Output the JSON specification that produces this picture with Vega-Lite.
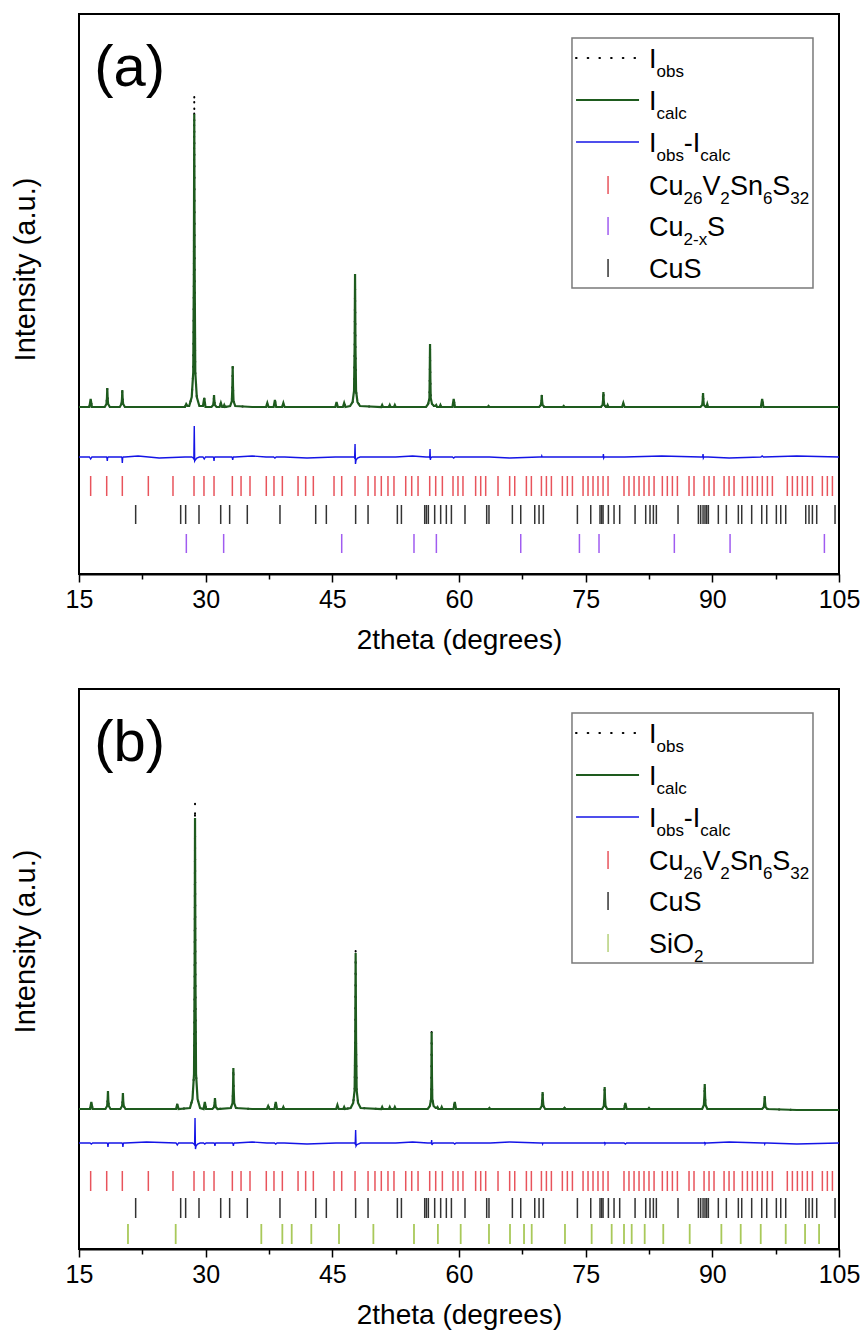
{
"$schema": "https://vega.github.io/schema/vega-lite/v6.json",
"padding": {"left": 10, "top": 13, "right": 0, "bottom": 0},
"spacing": 33,
"config": {"font": "Liberation Sans", "view": {"stroke": "black", "strokeWidth": 2}, "text": {"font": "Liberation Sans", "color": "black"}},
"datasets": {
"a": [
{"t":15,"c":167,"o":167,"d":117},{"t":16.23,"c":167,"o":167,"d":117},{"t":16.38,"c":175,"o":175,"d":115},{"t":16.53,"c":167,"o":167,"d":117},
{"t":18.05,"c":167,"o":167,"d":117},{"t":18.25,"c":170,"o":170,"d":117},{"t":18.31,"c":176,"o":176,"d":116},{"t":18.35,"c":186,"o":186,"d":113},{"t":18.39,"c":176,"o":176,"d":116},{"t":18.45,"c":170,"o":170,"d":117},{"t":18.65,"c":167,"o":167,"d":117},
{"t":19.83,"c":167,"o":167,"d":117},{"t":20.03,"c":170,"o":170,"d":117},{"t":20.09,"c":175,"o":175,"d":116},{"t":20.13,"c":184,"o":184,"d":111},{"t":20.17,"c":175,"o":175,"d":116},{"t":20.23,"c":170,"o":170,"d":117},{"t":20.43,"c":167,"o":167,"d":117},
{"t":22.0,"c":167,"o":167,"d":118},{"t":24.5,"c":167,"o":167,"d":116},
{"t":27.55,"c":167,"o":167,"d":117},{"t":27.7,"c":170,"o":170,"d":117},{"t":27.85,"c":168,"o":168,"d":117},
{"t":28.05,"c":168,"o":168,"d":117},{"t":28.35,"c":177,"o":177,"d":117},{"t":28.53,"c":202,"o":202,"d":116},{"t":28.6,"c":299,"o":299,"d":115},{"t":28.65,"c":460,"o":480,"d":148},{"t":28.7,"c":299,"o":299,"d":113},{"t":28.77,"c":202,"o":202,"d":114},{"t":28.95,"c":177,"o":177,"d":116},{"t":29.25,"c":168,"o":168,"d":117},
{"t":29.68,"c":168,"o":168,"d":117},{"t":29.83,"c":176,"o":176,"d":115},{"t":29.98,"c":167,"o":167,"d":117},
{"t":30.69,"c":167,"o":167,"d":117},{"t":30.89,"c":169,"o":169,"d":117},{"t":30.95,"c":173,"o":173,"d":116},{"t":30.99,"c":179,"o":179,"d":113},{"t":31.03,"c":173,"o":173,"d":116},{"t":31.09,"c":169,"o":169,"d":117},{"t":31.29,"c":167,"o":167,"d":117},
{"t":31.65,"c":167,"o":167,"d":117},{"t":31.8,"c":171,"o":171,"d":117},{"t":31.95,"c":167,"o":167,"d":117},
{"t":32.1,"c":167,"o":167,"d":117},{"t":32.2,"c":169,"o":169,"d":117},{"t":32.3,"c":167,"o":167,"d":117},
{"t":32.9,"c":168,"o":168,"d":117},{"t":33.1,"c":173,"o":173,"d":117},{"t":33.16,"c":187,"o":187,"d":116},{"t":33.2,"c":208,"o":208,"d":114},{"t":33.24,"c":187,"o":187,"d":116},{"t":33.3,"c":173,"o":173,"d":117},{"t":33.5,"c":168,"o":168,"d":117},
{"t":35.5,"c":167,"o":167,"d":118},
{"t":37.15,"c":167,"o":167,"d":117},{"t":37.3,"c":171,"o":171,"d":117},{"t":37.45,"c":167,"o":167,"d":117},
{"t":38.05,"c":167,"o":167,"d":117},{"t":38.2,"c":174,"o":174,"d":116},{"t":38.35,"c":167,"o":167,"d":117},
{"t":39.05,"c":167,"o":167,"d":117},{"t":39.2,"c":171,"o":171,"d":117},{"t":39.35,"c":167,"o":167,"d":117},
{"t":42.0,"c":167,"o":167,"d":116},
{"t":45.35,"c":167,"o":167,"d":117},{"t":45.5,"c":172,"o":172,"d":117},{"t":45.65,"c":167,"o":167,"d":117},
{"t":46.25,"c":167,"o":167,"d":117},{"t":46.4,"c":171,"o":171,"d":117},{"t":46.55,"c":167,"o":167,"d":117},
{"t":47.1,"c":168,"o":168,"d":117},{"t":47.4,"c":172,"o":172,"d":117},{"t":47.57,"c":183,"o":183,"d":117},{"t":47.64,"c":227,"o":227,"d":116},{"t":47.69,"c":300,"o":303,"d":130},{"t":47.74,"c":227,"o":227,"d":110},{"t":47.81,"c":183,"o":183,"d":114},{"t":47.98,"c":172,"o":172,"d":116},{"t":48.28,"c":168,"o":168,"d":117},
{"t":50.8,"c":167,"o":167,"d":117},{"t":50.9,"c":169,"o":169,"d":117},{"t":51.0,"c":167,"o":167,"d":117},
{"t":51.7,"c":167,"o":167,"d":117},{"t":51.8,"c":169,"o":169,"d":117},{"t":51.9,"c":167,"o":167,"d":117},
{"t":52.3,"c":167,"o":167,"d":117},{"t":52.4,"c":169,"o":169,"d":117},{"t":52.5,"c":167,"o":167,"d":117},
{"t":54.5,"c":167,"o":167,"d":118},
{"t":56.1,"c":167,"o":167,"d":117},{"t":56.35,"c":170,"o":170,"d":117},{"t":56.5,"c":176,"o":176,"d":117},{"t":56.53,"c":195,"o":195,"d":116},{"t":56.57,"c":230,"o":232,"d":125},{"t":56.61,"c":195,"o":195,"d":114},{"t":56.65,"c":176,"o":176,"d":116},{"t":56.8,"c":170,"o":170,"d":117},{"t":57.05,"c":168,"o":168,"d":117},
{"t":57.2,"c":168,"o":168,"d":117},{"t":57.3,"c":169,"o":169,"d":117},{"t":57.4,"c":167,"o":167,"d":117},
{"t":57.7,"c":167,"o":167,"d":117},{"t":57.8,"c":169,"o":169,"d":117},{"t":57.9,"c":167,"o":167,"d":117},
{"t":59.22,"c":167,"o":167,"d":117},{"t":59.37,"c":175,"o":175,"d":116},{"t":59.52,"c":167,"o":167,"d":117},
{"t":63.4,"c":167,"o":167,"d":117},{"t":63.5,"c":168,"o":168,"d":117},{"t":63.6,"c":167,"o":167,"d":117},
{"t":66.0,"c":167,"o":167,"d":116},
{"t":69.5,"c":167,"o":167,"d":117},{"t":69.7,"c":169,"o":169,"d":117},{"t":69.76,"c":173,"o":173,"d":117},{"t":69.8,"c":179,"o":179,"d":118},{"t":69.84,"c":173,"o":173,"d":117},{"t":69.9,"c":169,"o":169,"d":117},{"t":70.1,"c":167,"o":167,"d":117},
{"t":72.3,"c":167,"o":167,"d":117},{"t":72.4,"c":168,"o":168,"d":117},{"t":72.5,"c":167,"o":167,"d":117},
{"t":76.8,"c":167,"o":167,"d":117},{"t":77.0,"c":169,"o":169,"d":117},{"t":77.06,"c":174,"o":174,"d":117},{"t":77.1,"c":182,"o":184,"d":120},{"t":77.14,"c":174,"o":174,"d":116},{"t":77.2,"c":169,"o":169,"d":117},{"t":77.4,"c":167,"o":167,"d":117},
{"t":77.5,"c":167,"o":167,"d":117},{"t":77.6,"c":169,"o":169,"d":117},{"t":77.7,"c":167,"o":167,"d":117},
{"t":79.31,"c":167,"o":167,"d":117},{"t":79.46,"c":171,"o":171,"d":117},{"t":79.61,"c":167,"o":167,"d":117},
{"t":84.0,"c":167,"o":167,"d":118},
{"t":88.6,"c":167,"o":167,"d":117},{"t":88.8,"c":169,"o":169,"d":117},{"t":88.86,"c":174,"o":174,"d":117},{"t":88.9,"c":181,"o":182,"d":120},{"t":88.94,"c":174,"o":174,"d":116},{"t":89.0,"c":169,"o":169,"d":117},{"t":89.2,"c":167,"o":167,"d":117},
{"t":89.3,"c":167,"o":167,"d":117},{"t":89.4,"c":170,"o":170,"d":117},{"t":89.5,"c":167,"o":167,"d":117},
{"t":92.0,"c":167,"o":167,"d":116},
{"t":95.75,"c":167,"o":167,"d":117},{"t":95.9,"c":175,"o":175,"d":118},{"t":96.05,"c":167,"o":167,"d":117},
{"t":100.0,"c":167,"o":167,"d":118},{"t":105,"c":167,"o":167,"d":117}
],
"b": [
{"t":15,"c":140,"o":140,"d":106},{"t":16.31,"c":140,"o":140,"d":106},{"t":16.46,"c":147,"o":147,"d":105},{"t":16.61,"c":140,"o":140,"d":106},
{"t":18.13,"c":140,"o":140,"d":106},{"t":18.33,"c":143,"o":143,"d":106},{"t":18.39,"c":149,"o":149,"d":105},{"t":18.43,"c":158,"o":158,"d":102},{"t":18.47,"c":149,"o":149,"d":105},{"t":18.53,"c":143,"o":143,"d":106},{"t":18.73,"c":140,"o":140,"d":106},
{"t":19.9,"c":140,"o":140,"d":106},{"t":20.1,"c":143,"o":143,"d":106},{"t":20.16,"c":148,"o":148,"d":105},{"t":20.2,"c":156,"o":156,"d":102},{"t":20.24,"c":148,"o":148,"d":105},{"t":20.3,"c":143,"o":143,"d":106},{"t":20.5,"c":140,"o":140,"d":106},
{"t":23.0,"c":140,"o":140,"d":107},
{"t":26.49,"c":140,"o":140,"d":106},{"t":26.64,"c":145,"o":145,"d":104},{"t":26.79,"c":140,"o":140,"d":106},
{"t":28.14,"c":141,"o":141,"d":106},{"t":28.44,"c":150,"o":150,"d":106},{"t":28.62,"c":175,"o":175,"d":105},{"t":28.69,"c":271,"o":271,"d":104},{"t":28.74,"c":431,"o":446,"d":131},{"t":28.79,"c":271,"o":271,"d":100},{"t":28.86,"c":175,"o":175,"d":103},{"t":29.04,"c":150,"o":150,"d":105},{"t":29.34,"c":141,"o":141,"d":106},
{"t":29.75,"c":140,"o":140,"d":106},{"t":29.9,"c":147,"o":147,"d":105},{"t":30.05,"c":140,"o":140,"d":106},
{"t":30.8,"c":140,"o":140,"d":106},{"t":31.0,"c":142,"o":142,"d":106},{"t":31.06,"c":146,"o":146,"d":105},{"t":31.1,"c":151,"o":151,"d":103},{"t":31.14,"c":146,"o":146,"d":105},{"t":31.2,"c":142,"o":142,"d":106},{"t":31.4,"c":140,"o":140,"d":106},
{"t":32.98,"c":141,"o":141,"d":106},{"t":33.18,"c":146,"o":146,"d":106},{"t":33.24,"c":160,"o":160,"d":105},{"t":33.28,"c":181,"o":181,"d":103},{"t":33.32,"c":160,"o":160,"d":105},{"t":33.38,"c":146,"o":146,"d":106},{"t":33.58,"c":141,"o":141,"d":106},
{"t":35.5,"c":140,"o":140,"d":107},
{"t":37.25,"c":140,"o":140,"d":106},{"t":37.4,"c":143,"o":143,"d":106},{"t":37.55,"c":140,"o":140,"d":106},
{"t":38.15,"c":140,"o":140,"d":106},{"t":38.3,"c":147,"o":147,"d":105},{"t":38.45,"c":140,"o":140,"d":106},
{"t":39.1,"c":140,"o":140,"d":106},{"t":39.2,"c":142,"o":142,"d":106},{"t":39.3,"c":140,"o":140,"d":106},
{"t":42.0,"c":140,"o":140,"d":105},
{"t":45.45,"c":140,"o":140,"d":106},{"t":45.6,"c":144,"o":144,"d":106},{"t":45.75,"c":140,"o":140,"d":106},
{"t":46.3,"c":140,"o":140,"d":106},{"t":46.4,"c":142,"o":142,"d":106},{"t":46.5,"c":140,"o":140,"d":106},
{"t":47.17,"c":141,"o":141,"d":106},{"t":47.47,"c":146,"o":146,"d":106},{"t":47.64,"c":159,"o":159,"d":106},{"t":47.71,"c":210,"o":210,"d":105},{"t":47.76,"c":296,"o":298,"d":119},{"t":47.81,"c":210,"o":210,"d":103},{"t":47.88,"c":159,"o":159,"d":104},{"t":48.05,"c":146,"o":146,"d":105},{"t":48.35,"c":141,"o":141,"d":106},
{"t":50.8,"c":140,"o":140,"d":106},{"t":50.9,"c":142,"o":142,"d":106},{"t":51.0,"c":140,"o":140,"d":106},
{"t":51.7,"c":140,"o":140,"d":106},{"t":51.8,"c":142,"o":142,"d":106},{"t":51.9,"c":140,"o":140,"d":106},
{"t":52.3,"c":140,"o":140,"d":106},{"t":52.4,"c":142,"o":142,"d":106},{"t":52.5,"c":140,"o":140,"d":106},
{"t":54.5,"c":140,"o":140,"d":107},
{"t":56.3,"c":140,"o":140,"d":106},{"t":56.55,"c":143,"o":143,"d":106},{"t":56.7,"c":150,"o":150,"d":106},{"t":56.73,"c":172,"o":172,"d":106},{"t":56.76,"c":217,"o":217,"d":109},{"t":56.8,"c":172,"o":172,"d":104},{"t":56.84,"c":150,"o":150,"d":105},{"t":56.99,"c":143,"o":143,"d":106},{"t":57.24,"c":141,"o":141,"d":106},
{"t":57.35,"c":141,"o":141,"d":106},{"t":57.45,"c":142,"o":142,"d":106},{"t":57.55,"c":140,"o":140,"d":106},
{"t":57.85,"c":140,"o":140,"d":106},{"t":57.95,"c":142,"o":142,"d":106},{"t":58.05,"c":140,"o":140,"d":106},
{"t":59.35,"c":140,"o":140,"d":106},{"t":59.5,"c":147,"o":147,"d":105},{"t":59.65,"c":140,"o":140,"d":106},
{"t":63.5,"c":140,"o":140,"d":106},{"t":63.6,"c":141,"o":141,"d":106},{"t":63.7,"c":140,"o":140,"d":106},
{"t":66.0,"c":140,"o":140,"d":107},
{"t":69.6,"c":140,"o":140,"d":106},{"t":69.8,"c":143,"o":143,"d":106},{"t":69.86,"c":149,"o":149,"d":106},{"t":69.9,"c":157,"o":157,"d":105},{"t":69.94,"c":149,"o":149,"d":106},{"t":70.0,"c":143,"o":143,"d":106},{"t":70.2,"c":140,"o":140,"d":106},
{"t":72.4,"c":140,"o":140,"d":106},{"t":72.5,"c":141,"o":141,"d":106},{"t":72.6,"c":140,"o":140,"d":106},
{"t":76.95,"c":140,"o":140,"d":106},{"t":77.15,"c":143,"o":143,"d":106},{"t":77.21,"c":151,"o":151,"d":106},{"t":77.25,"c":162,"o":162,"d":107},{"t":77.29,"c":151,"o":151,"d":105},{"t":77.35,"c":143,"o":143,"d":106},{"t":77.55,"c":140,"o":140,"d":106},
{"t":79.55,"c":140,"o":140,"d":106},{"t":79.7,"c":146,"o":146,"d":105},{"t":79.85,"c":140,"o":140,"d":106},
{"t":82.4,"c":140,"o":140,"d":106},{"t":82.5,"c":141,"o":141,"d":106},{"t":82.6,"c":140,"o":140,"d":106},
{"t":88.8,"c":140,"o":140,"d":106},{"t":89.0,"c":144,"o":144,"d":106},{"t":89.06,"c":153,"o":153,"d":106},{"t":89.1,"c":165,"o":165,"d":107},{"t":89.14,"c":153,"o":153,"d":105},{"t":89.2,"c":144,"o":144,"d":106},{"t":89.4,"c":140,"o":140,"d":106},
{"t":92.0,"c":140,"o":140,"d":107},
{"t":95.9,"c":140,"o":140,"d":106},{"t":96.1,"c":142,"o":142,"d":106},{"t":96.16,"c":147,"o":147,"d":106},{"t":96.2,"c":153,"o":153,"d":105},{"t":96.24,"c":147,"o":147,"d":106},{"t":96.3,"c":142,"o":142,"d":106},{"t":96.5,"c":140,"o":140,"d":106},
{"t":100.0,"c":139,"o":139,"d":105},{"t":105,"c":139,"o":139,"d":106}
],
"cts": [{"t":16.38},{"t":18.28},{"t":20.13},{"t":23.21},{"t":26.13},{"t":28.62},{"t":29.80},{"t":30.99},{"t":33.16},{"t":34.19},{"t":35.25},{"t":37.18},{"t":38.09},{"t":39.08},{"t":40.94},{"t":41.84},{"t":42.75},{"t":45.20},{"t":46.11},{"t":47.69},{"t":49.23},{"t":50.05},{"t":50.80},{"t":51.59},{"t":52.30},{"t":53.69},{"t":54.40},{"t":55.15},{"t":56.53},{"t":57.24},{"t":58.03},{"t":59.29},{"t":59.88},{"t":60.47},{"t":61.97},{"t":62.57},{"t":63.16},{"t":64.62},{"t":66.00},{"t":66.60},{"t":67.98},{"t":68.57},{"t":69.76},{"t":70.35},{"t":70.94},{"t":72.24},{"t":72.83},{"t":73.43},{"t":74.69},{"t":75.28},{"t":75.87},{"t":76.46},{"t":77.06},{"t":77.65},{"t":79.54},{"t":80.13},{"t":80.73},{"t":81.32},{"t":81.91},{"t":82.50},{"t":83.10},{"t":84.08},{"t":84.67},{"t":85.27},{"t":85.86},{"t":87.24},{"t":87.83},{"t":89.02},{"t":89.61},{"t":90.20},{"t":91.39},{"t":91.98},{"t":92.57},{"t":93.56},{"t":94.15},{"t":94.74},{"t":95.33},{"t":95.92},{"t":96.52},{"t":97.11},{"t":98.88},{"t":99.48},{"t":100.07},{"t":100.66},{"t":101.25},{"t":101.85},{"t":103.03},{"t":103.62},{"t":104.22}],
"cus": [{"t":21.71},{"t":27.04},{"t":27.63},{"t":29.21},{"t":31.78},{"t":32.84},{"t":34.93},{"t":38.80},{"t":43.03},{"t":44.29},{"t":47.76},{"t":49.23},{"t":52.70},{"t":53.18},{"t":55.94},{"t":56.14},{"t":56.37},{"t":57.12},{"t":57.83},{"t":58.5},{"t":59.1},{"t":60.71},{"t":63.28},{"t":63.55},{"t":66.32},{"t":67.31},{"t":68.97},{"t":69.48},{"t":69.99},{"t":74.02},{"t":75.60},{"t":76.70},{"t":76.90},{"t":77.06},{"t":77.69},{"t":78.36},{"t":79.03},{"t":80.85},{"t":82.11},{"t":82.62},{"t":83.02},{"t":83.37},{"t":85.94},{"t":88.35},{"t":88.62},{"t":88.90},{"t":89.13},{"t":89.33},{"t":89.53},{"t":90.71},{"t":91.66},{"t":93.08},{"t":93.48},{"t":94.66},{"t":95.85},{"t":96.44},{"t":97.58},{"t":98.10},{"t":98.69},{"t":101.06},{"t":101.45},{"t":101.85},{"t":102.36},{"t":104.53}],
"cu2s": [{"t":27.71},{"t":32.13},{"t":46.11},{"t":54.67},{"t":57.32},{"t":67.31},{"t":74.26},{"t":76.58},{"t":85.5},{"t":92.10},{"t":103.27}],
"sio2": [{"t":20.80},{"t":26.45},{"t":36.59},{"t":39.08},{"t":40.19},{"t":42.51},{"t":45.79},{"t":49.86},{"t":54.67},{"t":57.5},{"t":60.20},{"t":63.55},{"t":66.04},{"t":67.70},{"t":68.61},{"t":72.55},{"t":75.71},{"t":78.08},{"t":79.54},{"t":80.45},{"t":81.99},{"t":84.19},{"t":87.32},{"t":91.07},{"t":93.36},{"t":95.73},{"t":98.69},{"t":100.98},{"t":102.64}]
},
"vconcat": [
{
"width": 760, "height": 560,
"layer": [
{"data": {"name": "a"}, "mark": {"type": "line", "color": "black", "strokeWidth": 2, "strokeDash": [0.5, 11], "strokeCap": "round"},
 "encoding": {"x": {"field": "t", "type": "quantitative", "scale": {"domain": [15,105], "nice": false, "zero": false},
   "axis": {"title": "2theta (degrees)", "values": [15,22.5,30,37.5,45,52.5,60,67.5,75,82.5,90,97.5,105], "labelExpr": "datum.value % 15 === 0 ? datum.label : ''", "tickSize": {"condition": {"test": "datum.value % 15 === 0", "value": 8}, "value": 5}, "labelOverlap": false, "labelFlush": false, "grid": false, "domainColor": "black", "domainWidth": 2, "tickColor": "black", "tickWidth": 1.5, "labelFontSize": 25, "labelColor": "black", "labelPadding": 5, "labelFont": "Liberation Sans", "titleFont": "Liberation Sans", "titleFontSize": 28, "titleFontWeight": "normal", "titleColor": "black", "titlePadding": 14}},
  "y": {"field": "o", "type": "quantitative", "scale": {"domain": [0,560], "nice": false, "zero": false},
   "axis": {"title": "Intensity (a.u.)", "labels": false, "ticks": false, "domain": false, "grid": false, "titleFont": "Liberation Sans", "titleFontSize": 29, "titleFontWeight": "normal", "titleColor": "black", "titlePadding": 39, "titleY": 255}}}},
{"data": {"name": "a"}, "mark": {"type": "line", "color": "#1e5b1e", "strokeWidth": 2.2}, "encoding": {"x": {"field": "t", "type": "quantitative", "scale": {"domain": [15,105], "nice": false, "zero": false}}, "y": {"field": "c", "type": "quantitative", "scale": {"domain": [0,560], "nice": false, "zero": false}}}},
{"data": {"name": "a"}, "mark": {"type": "line", "color": "#1414e6", "strokeWidth": 1.4}, "encoding": {"x": {"field": "t", "type": "quantitative", "scale": {"domain": [15,105], "nice": false, "zero": false}}, "y": {"field": "d", "type": "quantitative", "scale": {"domain": [0,560], "nice": false, "zero": false}}}},
{"data": {"name": "cts"}, "mark": {"type": "rule", "color": "#e8545c", "strokeWidth": 1.5}, "encoding": {"x": {"field": "t", "type": "quantitative", "scale": {"domain": [15,105], "nice": false, "zero": false}}, "y": {"datum": 98, "type": "quantitative", "scale": {"domain": [0,560], "nice": false, "zero": false}}, "y2": {"datum": 78}}},
{"data": {"name": "cus"}, "mark": {"type": "rule", "color": "#333333", "strokeWidth": 1.5}, "encoding": {"x": {"field": "t", "type": "quantitative", "scale": {"domain": [15,105], "nice": false, "zero": false}}, "y": {"datum": 69, "type": "quantitative", "scale": {"domain": [0,560], "nice": false, "zero": false}}, "y2": {"datum": 50}}},
{"data": {"name": "cu2s"}, "mark": {"type": "rule", "color": "#a05cf0", "strokeWidth": 1.5}, "encoding": {"x": {"field": "t", "type": "quantitative", "scale": {"domain": [15,105], "nice": false, "zero": false}}, "y": {"datum": 40, "type": "quantitative", "scale": {"domain": [0,560], "nice": false, "zero": false}}, "y2": {"datum": 21}}},
{"data": {"values": [{}]}, "mark": {"type": "rect", "fill": "white", "stroke": "#7a7a7a", "strokeWidth": 1.5}, "encoding": {"x": {"datum": 73.38, "type": "quantitative"}, "x2": {"datum": 101.92}, "y": {"datum": 536, "type": "quantitative"}, "y2": {"datum": 286}}},
{"data": {"values": [{}]}, "mark": {"type": "text", "align": "left", "baseline": "alphabetic", "fontSize": 58, "font": "Liberation Sans", "color": "black"}, "encoding": {"x": {"datum": 16.8, "type": "quantitative"}, "y": {"datum": 488, "type": "quantitative"}, "text": {"value": "(a)"}}},
{"data": {"values": [{}]}, "mark": {"type": "rule", "color": "black", "strokeWidth": 2.2, "strokeDash": [0.5, 11.2], "strokeCap": "round"}, "encoding": {"x": {"datum": 73.86, "type": "quantitative"}, "x2": {"datum": 81.32}, "y": {"datum": 516, "type": "quantitative"}}},
{"data": {"values": [{}]}, "mark": {"type": "rule", "color": "#1e5b1e", "strokeWidth": 2.2}, "encoding": {"x": {"datum": 73.86, "type": "quantitative"}, "x2": {"datum": 81.32}, "y": {"datum": 474, "type": "quantitative"}}},
{"data": {"values": [{}]}, "mark": {"type": "rule", "color": "#1414e6", "strokeWidth": 1.5}, "encoding": {"x": {"datum": 73.86, "type": "quantitative"}, "x2": {"datum": 81.32}, "y": {"datum": 432, "type": "quantitative"}}},
{"data": {"values": [{}]}, "mark": {"type": "rule", "color": "#e8545c", "strokeWidth": 1.5}, "encoding": {"x": {"datum": 77.65, "type": "quantitative"}, "y": {"datum": 398, "type": "quantitative"}, "y2": {"datum": 380}}},
{"data": {"values": [{}]}, "mark": {"type": "rule", "color": "#a05cf0", "strokeWidth": 1.5}, "encoding": {"x": {"datum": 77.65, "type": "quantitative"}, "y": {"datum": 357, "type": "quantitative"}, "y2": {"datum": 339}}},
{"data": {"values": [{}]}, "mark": {"type": "rule", "color": "#333333", "strokeWidth": 1.5}, "encoding": {"x": {"datum": 77.65, "type": "quantitative"}, "y": {"datum": 315, "type": "quantitative"}, "y2": {"datum": 297}}},
{"data": {"values": [{}]}, "mark": {"type": "text", "align": "left", "baseline": "alphabetic", "fontSize": 27}, "encoding": {"x": {"datum": 82.5, "type": "quantitative"}, "y": {"datum": 506, "type": "quantitative"}, "text": {"value": "I"}}},
{"data": {"values": [{}]}, "mark": {"type": "text", "align": "left", "baseline": "alphabetic", "fontSize": 17}, "encoding": {"x": {"datum": 83.388, "type": "quantitative"}, "y": {"datum": 497, "type": "quantitative"}, "text": {"value": "obs"}}},
{"data": {"values": [{}]}, "mark": {"type": "text", "align": "left", "baseline": "alphabetic", "fontSize": 27}, "encoding": {"x": {"datum": 82.5, "type": "quantitative"}, "y": {"datum": 464, "type": "quantitative"}, "text": {"value": "I"}}},
{"data": {"values": [{}]}, "mark": {"type": "text", "align": "left", "baseline": "alphabetic", "fontSize": 17}, "encoding": {"x": {"datum": 83.388, "type": "quantitative"}, "y": {"datum": 455, "type": "quantitative"}, "text": {"value": "calc"}}},
{"data": {"values": [{}]}, "mark": {"type": "text", "align": "left", "baseline": "alphabetic", "fontSize": 27}, "encoding": {"x": {"datum": 82.5, "type": "quantitative"}, "y": {"datum": 422, "type": "quantitative"}, "text": {"value": "I"}}},
{"data": {"values": [{}]}, "mark": {"type": "text", "align": "left", "baseline": "alphabetic", "fontSize": 17}, "encoding": {"x": {"datum": 83.388, "type": "quantitative"}, "y": {"datum": 413, "type": "quantitative"}, "text": {"value": "obs"}}},
{"data": {"values": [{}]}, "mark": {"type": "text", "align": "left", "baseline": "alphabetic", "fontSize": 27}, "encoding": {"x": {"datum": 86.625, "type": "quantitative"}, "y": {"datum": 422, "type": "quantitative"}, "text": {"value": "-I"}}},
{"data": {"values": [{}]}, "mark": {"type": "text", "align": "left", "baseline": "alphabetic", "fontSize": 17}, "encoding": {"x": {"datum": 88.579, "type": "quantitative"}, "y": {"datum": 413, "type": "quantitative"}, "text": {"value": "calc"}}},
{"data": {"values": [{}]}, "mark": {"type": "text", "align": "left", "baseline": "alphabetic", "fontSize": 27}, "encoding": {"x": {"datum": 82.5, "type": "quantitative"}, "y": {"datum": 379, "type": "quantitative"}, "text": {"value": "Cu"}}},
{"data": {"values": [{}]}, "mark": {"type": "text", "align": "left", "baseline": "alphabetic", "fontSize": 17}, "encoding": {"x": {"datum": 86.59, "type": "quantitative"}, "y": {"datum": 370, "type": "quantitative"}, "text": {"value": "26"}}},
{"data": {"values": [{}]}, "mark": {"type": "text", "align": "left", "baseline": "alphabetic", "fontSize": 27}, "encoding": {"x": {"datum": 88.83, "type": "quantitative"}, "y": {"datum": 379, "type": "quantitative"}, "text": {"value": "V"}}},
{"data": {"values": [{}]}, "mark": {"type": "text", "align": "left", "baseline": "alphabetic", "fontSize": 17}, "encoding": {"x": {"datum": 90.95, "type": "quantitative"}, "y": {"datum": 370, "type": "quantitative"}, "text": {"value": "2"}}},
{"data": {"values": [{}]}, "mark": {"type": "text", "align": "left", "baseline": "alphabetic", "fontSize": 27}, "encoding": {"x": {"datum": 92.08, "type": "quantitative"}, "y": {"datum": 379, "type": "quantitative"}, "text": {"value": "Sn"}}},
{"data": {"values": [{}]}, "mark": {"type": "text", "align": "left", "baseline": "alphabetic", "fontSize": 17}, "encoding": {"x": {"datum": 96.0, "type": "quantitative"}, "y": {"datum": 370, "type": "quantitative"}, "text": {"value": "6"}}},
{"data": {"values": [{}]}, "mark": {"type": "text", "align": "left", "baseline": "alphabetic", "fontSize": 27}, "encoding": {"x": {"datum": 97.1, "type": "quantitative"}, "y": {"datum": 379, "type": "quantitative"}, "text": {"value": "S"}}},
{"data": {"values": [{}]}, "mark": {"type": "text", "align": "left", "baseline": "alphabetic", "fontSize": 17}, "encoding": {"x": {"datum": 99.24, "type": "quantitative"}, "y": {"datum": 370, "type": "quantitative"}, "text": {"value": "32"}}},
{"data": {"values": [{}]}, "mark": {"type": "text", "align": "left", "baseline": "alphabetic", "fontSize": 27}, "encoding": {"x": {"datum": 82.5, "type": "quantitative"}, "y": {"datum": 338, "type": "quantitative"}, "text": {"value": "Cu"}}},
{"data": {"values": [{}]}, "mark": {"type": "text", "align": "left", "baseline": "alphabetic", "fontSize": 17}, "encoding": {"x": {"datum": 86.59, "type": "quantitative"}, "y": {"datum": 329, "type": "quantitative"}, "text": {"value": "2-x"}}},
{"data": {"values": [{}]}, "mark": {"type": "text", "align": "left", "baseline": "alphabetic", "fontSize": 27}, "encoding": {"x": {"datum": 89.38, "type": "quantitative"}, "y": {"datum": 338, "type": "quantitative"}, "text": {"value": "S"}}},
{"data": {"values": [{}]}, "mark": {"type": "text", "align": "left", "baseline": "alphabetic", "fontSize": 27}, "encoding": {"x": {"datum": 82.5, "type": "quantitative"}, "y": {"datum": 296, "type": "quantitative"}, "text": {"value": "CuS"}}}
]
},
{
"width": 760, "height": 560,
"layer": [
{"data": {"name": "b"}, "mark": {"type": "line", "color": "black", "strokeWidth": 2, "strokeDash": [0.5, 11], "strokeCap": "round"},
 "encoding": {"x": {"field": "t", "type": "quantitative", "scale": {"domain": [15,105], "nice": false, "zero": false},
   "axis": {"title": "2theta (degrees)", "values": [15,22.5,30,37.5,45,52.5,60,67.5,75,82.5,90,97.5,105], "labelExpr": "datum.value % 15 === 0 ? datum.label : ''", "tickSize": {"condition": {"test": "datum.value % 15 === 0", "value": 8}, "value": 5}, "labelOverlap": false, "labelFlush": false, "grid": false, "domainColor": "black", "domainWidth": 2, "tickColor": "black", "tickWidth": 1.5, "labelFontSize": 25, "labelColor": "black", "labelPadding": 5, "labelFont": "Liberation Sans", "titleFont": "Liberation Sans", "titleFontSize": 28, "titleFontWeight": "normal", "titleColor": "black", "titlePadding": 14}},
  "y": {"field": "o", "type": "quantitative", "scale": {"domain": [0,560], "nice": false, "zero": false},
   "axis": {"title": "Intensity (a.u.)", "labels": false, "ticks": false, "domain": false, "grid": false, "titleFont": "Liberation Sans", "titleFontSize": 29, "titleFontWeight": "normal", "titleColor": "black", "titlePadding": 39, "titleY": 252}}}},
{"data": {"name": "b"}, "mark": {"type": "line", "color": "#1e5b1e", "strokeWidth": 2.2}, "encoding": {"x": {"field": "t", "type": "quantitative", "scale": {"domain": [15,105], "nice": false, "zero": false}}, "y": {"field": "c", "type": "quantitative", "scale": {"domain": [0,560], "nice": false, "zero": false}}}},
{"data": {"name": "b"}, "mark": {"type": "line", "color": "#1414e6", "strokeWidth": 1.4}, "encoding": {"x": {"field": "t", "type": "quantitative", "scale": {"domain": [15,105], "nice": false, "zero": false}}, "y": {"field": "d", "type": "quantitative", "scale": {"domain": [0,560], "nice": false, "zero": false}}}},
{"data": {"name": "cts"}, "mark": {"type": "rule", "color": "#e8545c", "strokeWidth": 1.5}, "encoding": {"x": {"field": "t", "type": "quantitative", "scale": {"domain": [15,105], "nice": false, "zero": false}}, "y": {"datum": 78, "type": "quantitative", "scale": {"domain": [0,560], "nice": false, "zero": false}}, "y2": {"datum": 58}}},
{"data": {"name": "cus"}, "mark": {"type": "rule", "color": "#333333", "strokeWidth": 1.5}, "encoding": {"x": {"field": "t", "type": "quantitative", "scale": {"domain": [15,105], "nice": false, "zero": false}}, "y": {"datum": 51, "type": "quantitative", "scale": {"domain": [0,560], "nice": false, "zero": false}}, "y2": {"datum": 31}}},
{"data": {"name": "sio2"}, "mark": {"type": "rule", "color": "#a9c95a", "strokeWidth": 1.8}, "encoding": {"x": {"field": "t", "type": "quantitative", "scale": {"domain": [15,105], "nice": false, "zero": false}}, "y": {"datum": 25, "type": "quantitative", "scale": {"domain": [0,560], "nice": false, "zero": false}}, "y2": {"datum": 5}}},
{"data": {"values": [{}]}, "mark": {"type": "rect", "fill": "white", "stroke": "#7a7a7a", "strokeWidth": 1.5}, "encoding": {"x": {"datum": 73.38, "type": "quantitative"}, "x2": {"datum": 101.92}, "y": {"datum": 536, "type": "quantitative"}, "y2": {"datum": 286}}},
{"data": {"values": [{}]}, "mark": {"type": "text", "align": "left", "baseline": "alphabetic", "fontSize": 58, "font": "Liberation Sans", "color": "black"}, "encoding": {"x": {"datum": 16.8, "type": "quantitative"}, "y": {"datum": 488, "type": "quantitative"}, "text": {"value": "(b)"}}},
{"data": {"values": [{}]}, "mark": {"type": "rule", "color": "black", "strokeWidth": 2.2, "strokeDash": [0.5, 11.2], "strokeCap": "round"}, "encoding": {"x": {"datum": 73.86, "type": "quantitative"}, "x2": {"datum": 81.32}, "y": {"datum": 516, "type": "quantitative"}}},
{"data": {"values": [{}]}, "mark": {"type": "rule", "color": "#1e5b1e", "strokeWidth": 2.2}, "encoding": {"x": {"datum": 73.86, "type": "quantitative"}, "x2": {"datum": 81.32}, "y": {"datum": 474, "type": "quantitative"}}},
{"data": {"values": [{}]}, "mark": {"type": "rule", "color": "#1414e6", "strokeWidth": 1.5}, "encoding": {"x": {"datum": 73.86, "type": "quantitative"}, "x2": {"datum": 81.32}, "y": {"datum": 432, "type": "quantitative"}}},
{"data": {"values": [{}]}, "mark": {"type": "rule", "color": "#e8545c", "strokeWidth": 1.5}, "encoding": {"x": {"datum": 77.65, "type": "quantitative"}, "y": {"datum": 398, "type": "quantitative"}, "y2": {"datum": 380}}},
{"data": {"values": [{}]}, "mark": {"type": "rule", "color": "#333333", "strokeWidth": 1.5}, "encoding": {"x": {"datum": 77.65, "type": "quantitative"}, "y": {"datum": 357, "type": "quantitative"}, "y2": {"datum": 339}}},
{"data": {"values": [{}]}, "mark": {"type": "rule", "color": "#b5d07a", "strokeWidth": 1.5}, "encoding": {"x": {"datum": 77.65, "type": "quantitative"}, "y": {"datum": 315, "type": "quantitative"}, "y2": {"datum": 297}}},
{"data": {"values": [{}]}, "mark": {"type": "text", "align": "left", "baseline": "alphabetic", "fontSize": 27}, "encoding": {"x": {"datum": 82.5, "type": "quantitative"}, "y": {"datum": 506, "type": "quantitative"}, "text": {"value": "I"}}},
{"data": {"values": [{}]}, "mark": {"type": "text", "align": "left", "baseline": "alphabetic", "fontSize": 17}, "encoding": {"x": {"datum": 83.388, "type": "quantitative"}, "y": {"datum": 497, "type": "quantitative"}, "text": {"value": "obs"}}},
{"data": {"values": [{}]}, "mark": {"type": "text", "align": "left", "baseline": "alphabetic", "fontSize": 27}, "encoding": {"x": {"datum": 82.5, "type": "quantitative"}, "y": {"datum": 464, "type": "quantitative"}, "text": {"value": "I"}}},
{"data": {"values": [{}]}, "mark": {"type": "text", "align": "left", "baseline": "alphabetic", "fontSize": 17}, "encoding": {"x": {"datum": 83.388, "type": "quantitative"}, "y": {"datum": 455, "type": "quantitative"}, "text": {"value": "calc"}}},
{"data": {"values": [{}]}, "mark": {"type": "text", "align": "left", "baseline": "alphabetic", "fontSize": 27}, "encoding": {"x": {"datum": 82.5, "type": "quantitative"}, "y": {"datum": 422, "type": "quantitative"}, "text": {"value": "I"}}},
{"data": {"values": [{}]}, "mark": {"type": "text", "align": "left", "baseline": "alphabetic", "fontSize": 17}, "encoding": {"x": {"datum": 83.388, "type": "quantitative"}, "y": {"datum": 413, "type": "quantitative"}, "text": {"value": "obs"}}},
{"data": {"values": [{}]}, "mark": {"type": "text", "align": "left", "baseline": "alphabetic", "fontSize": 27}, "encoding": {"x": {"datum": 86.625, "type": "quantitative"}, "y": {"datum": 422, "type": "quantitative"}, "text": {"value": "-I"}}},
{"data": {"values": [{}]}, "mark": {"type": "text", "align": "left", "baseline": "alphabetic", "fontSize": 17}, "encoding": {"x": {"datum": 88.579, "type": "quantitative"}, "y": {"datum": 413, "type": "quantitative"}, "text": {"value": "calc"}}},
{"data": {"values": [{}]}, "mark": {"type": "text", "align": "left", "baseline": "alphabetic", "fontSize": 27}, "encoding": {"x": {"datum": 82.5, "type": "quantitative"}, "y": {"datum": 379, "type": "quantitative"}, "text": {"value": "Cu"}}},
{"data": {"values": [{}]}, "mark": {"type": "text", "align": "left", "baseline": "alphabetic", "fontSize": 17}, "encoding": {"x": {"datum": 86.59, "type": "quantitative"}, "y": {"datum": 370, "type": "quantitative"}, "text": {"value": "26"}}},
{"data": {"values": [{}]}, "mark": {"type": "text", "align": "left", "baseline": "alphabetic", "fontSize": 27}, "encoding": {"x": {"datum": 88.83, "type": "quantitative"}, "y": {"datum": 379, "type": "quantitative"}, "text": {"value": "V"}}},
{"data": {"values": [{}]}, "mark": {"type": "text", "align": "left", "baseline": "alphabetic", "fontSize": 17}, "encoding": {"x": {"datum": 90.95, "type": "quantitative"}, "y": {"datum": 370, "type": "quantitative"}, "text": {"value": "2"}}},
{"data": {"values": [{}]}, "mark": {"type": "text", "align": "left", "baseline": "alphabetic", "fontSize": 27}, "encoding": {"x": {"datum": 92.08, "type": "quantitative"}, "y": {"datum": 379, "type": "quantitative"}, "text": {"value": "Sn"}}},
{"data": {"values": [{}]}, "mark": {"type": "text", "align": "left", "baseline": "alphabetic", "fontSize": 17}, "encoding": {"x": {"datum": 96.0, "type": "quantitative"}, "y": {"datum": 370, "type": "quantitative"}, "text": {"value": "6"}}},
{"data": {"values": [{}]}, "mark": {"type": "text", "align": "left", "baseline": "alphabetic", "fontSize": 27}, "encoding": {"x": {"datum": 97.1, "type": "quantitative"}, "y": {"datum": 379, "type": "quantitative"}, "text": {"value": "S"}}},
{"data": {"values": [{}]}, "mark": {"type": "text", "align": "left", "baseline": "alphabetic", "fontSize": 17}, "encoding": {"x": {"datum": 99.24, "type": "quantitative"}, "y": {"datum": 370, "type": "quantitative"}, "text": {"value": "32"}}},
{"data": {"values": [{}]}, "mark": {"type": "text", "align": "left", "baseline": "alphabetic", "fontSize": 27}, "encoding": {"x": {"datum": 82.5, "type": "quantitative"}, "y": {"datum": 338, "type": "quantitative"}, "text": {"value": "CuS"}}},
{"data": {"values": [{}]}, "mark": {"type": "text", "align": "left", "baseline": "alphabetic", "fontSize": 27}, "encoding": {"x": {"datum": 82.5, "type": "quantitative"}, "y": {"datum": 296, "type": "quantitative"}, "text": {"value": "SiO"}}},
{"data": {"values": [{}]}, "mark": {"type": "text", "align": "left", "baseline": "alphabetic", "fontSize": 17}, "encoding": {"x": {"datum": 87.83, "type": "quantitative"}, "y": {"datum": 287, "type": "quantitative"}, "text": {"value": "2"}}}
]
}
]
}
